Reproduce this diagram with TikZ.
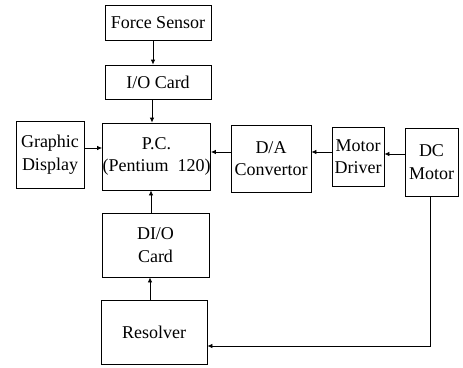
\documentclass[tikz,border=0pt]{standalone}
\usepackage{fontspec}
\setmainfont{Liberation Serif}
\usetikzlibrary{arrows.meta}
\begin{document}
\begin{tikzpicture}[x=1pt,y=-1pt,
  box/.style={draw, line width=0.8pt, inner sep=0pt, align=center,
    font=\fontsize{18}{22.5}\selectfont},
  arr/.style={line width=0.8pt, -{Latex[length=5pt,width=4.5pt]}}]
\useasboundingbox (0,0) rectangle (463,367);
\node[box, minimum width=106, minimum height=35] (fs) at (158,22.5) {Force Sensor};
\node[box, minimum width=106, minimum height=34] (io) at (158,82) {I/O Card};
\node[box, minimum width=107, minimum height=67] (pc) at (156.5,156.5) {P.C.\\(Pentium\ \ 120)};
\node[box, minimum width=68, minimum height=67] (gd) at (50,154.5) {Graphic\\Display};
\node[box, minimum width=80, minimum height=67] (da) at (271,158.5) {D/A\\Convertor};
\node[box, minimum width=52, minimum height=59] (md) at (358,156.5) {Motor\\Driver};
\node[box, minimum width=53, minimum height=68] (dc) at (431.5,162) {DC\\Motor};
\node[box, minimum width=107, minimum height=64] (dio) at (155.5,245) {DI/O\\Card};
\node[box, minimum width=106, minimum height=64] (res) at (154,332) {Resolver};
\draw[arr] ([xshift=-5pt]fs.south) -- ([xshift=-5pt]io.north);
\draw[arr] ([xshift=-6pt]io.south) -- ([xshift=-4.5pt]pc.north);
\draw[arr] ([xshift=-4.5pt]dio.north) -- ([xshift=-5.5pt]pc.south);
\draw[arr] ([xshift=-4pt]res.north) -- ([xshift=-5.5pt]dio.south);
\draw[arr] ([yshift=6.5pt]gd.east) -- ([yshift=8.5pt]pc.west);
\draw[arr] ([yshift=6.5pt]da.west) -- ([yshift=4.5pt]pc.east);
\draw[arr] ([yshift=4.5pt]md.west) -- ([yshift=6.5pt]da.east);
\draw[arr] ([yshift=8pt]dc.west) -- ([yshift=2.5pt]md.east);
\draw[arr] ([xshift=-1.5pt]dc.south) |- ([yshift=-14pt]res.east);
\end{tikzpicture}
\end{document}
